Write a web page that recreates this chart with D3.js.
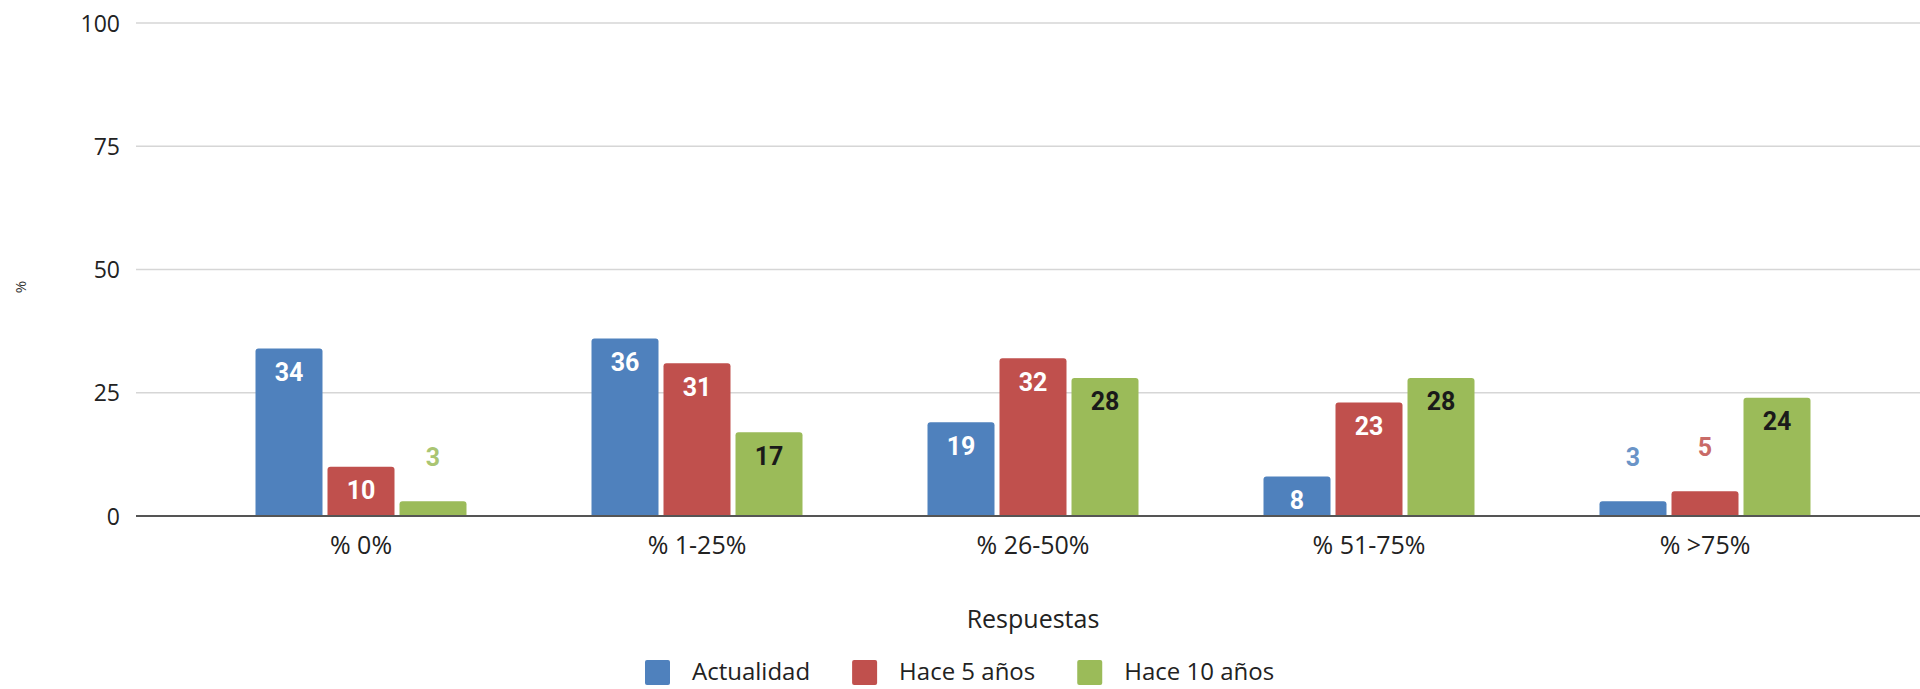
<!DOCTYPE html>
<html>
<head>
<meta charset="utf-8">
<script src="https://cdn.jsdelivr.net/npm/d3@7"></script>
<style>
  html, body { margin: 0; padding: 0; background: #ffffff; }
  svg { display: block; }
</style>
</head>
<body>
<svg id="chart" width="1920" height="689"></svg>
<script>
// Categories and series values (percent of responses)
const categories = ["% 0%", "% 1-25%", "% 26-50%", "% 51-75%", "% >75%"];
const seriesNames = ["Actualidad", "Hace 5 años", "Hace 10 años"];
const actualidad = [34, 36, 19, 8, 3];
const hace5 = [10, 31, 32, 23, 5];
const hace10 = [3, 17, 28, 28, 24];
const yTicks = [0, 25, 50, 75, 100];

const seriesValues = [actualidad, hace5, hace10];
const colors = ["#4f81bd", "#c0504d", "#9bbb59"];
const insideLabelColors = ["#ffffff", "#ffffff", "#1a1a1a"];

const svg = d3.select("#chart");

const plotLeft = 136, plotRight = 1920;
const y = d3.scaleLinear().domain([0, 100]).range([516, 23]);
const x0 = d3.scaleBand().domain(categories).range([193, 1873]).padding(0);
const x1 = d3.scaleBand().domain(seriesNames)
  .range([x0.bandwidth() / 2 - 108, x0.bandwidth() / 2 + 108])
  .paddingInner(5 / 72).paddingOuter(5 / 144);

// Horizontal gridlines
svg.append("g")
  .selectAll("line")
  .data(yTicks.filter(d => d !== 0))
  .join("line")
  .attr("x1", plotLeft).attr("x2", plotRight)
  .attr("y1", d => y(d)).attr("y2", d => y(d))
  .attr("stroke", "#d6d6d6").attr("stroke-width", 1.6);

// Y axis tick labels
const yAxis = d3.axisLeft(y).tickValues(yTicks).tickSize(0).tickPadding(0);
const gy = svg.append("g").attr("transform", `translate(120,0)`).call(yAxis);
gy.select(".domain").remove();
gy.selectAll("text")
  .attr("font-family", "Open Sans, sans-serif")
  .attr("font-size", 23)
  .attr("fill", "#222")
  .attr("dy", "0.35em");

// Y axis title
svg.append("text")
  .attr("transform", "translate(20,287) rotate(-90)")
  .attr("text-anchor", "middle")
  .attr("dominant-baseline", "central")
  .attr("font-family", "Open Sans, sans-serif")
  .attr("font-size", 15)
  .attr("fill", "#333")
  .text("%");

// Bars with rounded top corners
function topRounded(x, yTop, w, h, r) {
  r = Math.min(r, h, w / 2);
  return `M${x},${yTop + h}V${yTop + r}Q${x},${yTop} ${x + r},${yTop}` +
         `H${x + w - r}Q${x + w},${yTop} ${x + w},${yTop + r}V${yTop + h}Z`;
}

const rows = [];
categories.forEach((c, ci) => {
  seriesNames.forEach((s, si) => {
    rows.push({ cat: c, series: s, si, value: seriesValues[si][ci] });
  });
});

svg.append("g")
  .selectAll("path")
  .data(rows)
  .join("path")
  .attr("d", d => {
    const bx = x0(d.cat) + x1(d.series);
    const top = y(d.value);
    return topRounded(bx, top, x1.bandwidth(), y(0) - top, 3);
  })
  .attr("fill", d => colors[d.si]);

// Value labels: inside the bar top when there is room, otherwise above it
svg.append("g")
  .selectAll("text")
  .data(rows)
  .join("text")
  .attr("x", d => x0(d.cat) + x1(d.series) + x1.bandwidth() / 2)
  .attr("y", d => d.value >= 6 ? y(d.value) + 24 : y(d.value) - 44)
  .attr("text-anchor", "middle")
  .attr("dominant-baseline", "central")
  .attr("font-family", "Roboto, sans-serif")
  .attr("font-weight", 700)
  .attr("font-size", 25)
  .attr("fill", d => d.value >= 6 ? insideLabelColors[d.si] : colors[d.si])
  .attr("fill-opacity", d => d.value >= 6 ? 1 : 0.85)
  .text(d => d.value);

// Baseline
svg.append("line")
  .attr("x1", plotLeft).attr("x2", plotRight)
  .attr("y1", y(0)).attr("y2", y(0))
  .attr("stroke", "#555").attr("stroke-width", 2);

// Category axis
const xAxis = d3.axisBottom(x0).tickSize(0).tickPadding(0);
const gx = svg.append("g").attr("transform", `translate(0,545)`).call(xAxis);
gx.select(".domain").remove();
gx.selectAll("text")
  .attr("font-family", "Open Sans, sans-serif")
  .attr("font-size", 25)
  .attr("fill", "#222")
  .attr("dy", "0.35em")
  .attr("y", 0);

// X axis title
svg.append("text")
  .attr("x", 1033).attr("y", 618)
  .attr("text-anchor", "middle")
  .attr("dominant-baseline", "central")
  .attr("font-family", "Open Sans, sans-serif")
  .attr("font-size", 25)
  .attr("fill", "#222")
  .text("Respuestas");

// Legend
const legend = svg.append("g").attr("transform", "translate(645,672)");
let lx = 0;
seriesNames.forEach((name, i) => {
  const g = legend.append("g").attr("transform", `translate(${lx},0)`);
  g.append("rect")
    .attr("x", 0).attr("y", -12).attr("width", 25).attr("height", 25)
    .attr("rx", 2)
    .attr("fill", colors[i]);
  const t = g.append("text")
    .attr("x", 47).attr("y", 0)
    .attr("dy", "0.35em")
    .attr("font-family", "Open Sans, sans-serif")
    .attr("font-size", 24)
    .attr("fill", "#222")
    .text(name);
  lx += 47 + t.node().getComputedTextLength() + 42;
});
</script>
</body>
</html>
